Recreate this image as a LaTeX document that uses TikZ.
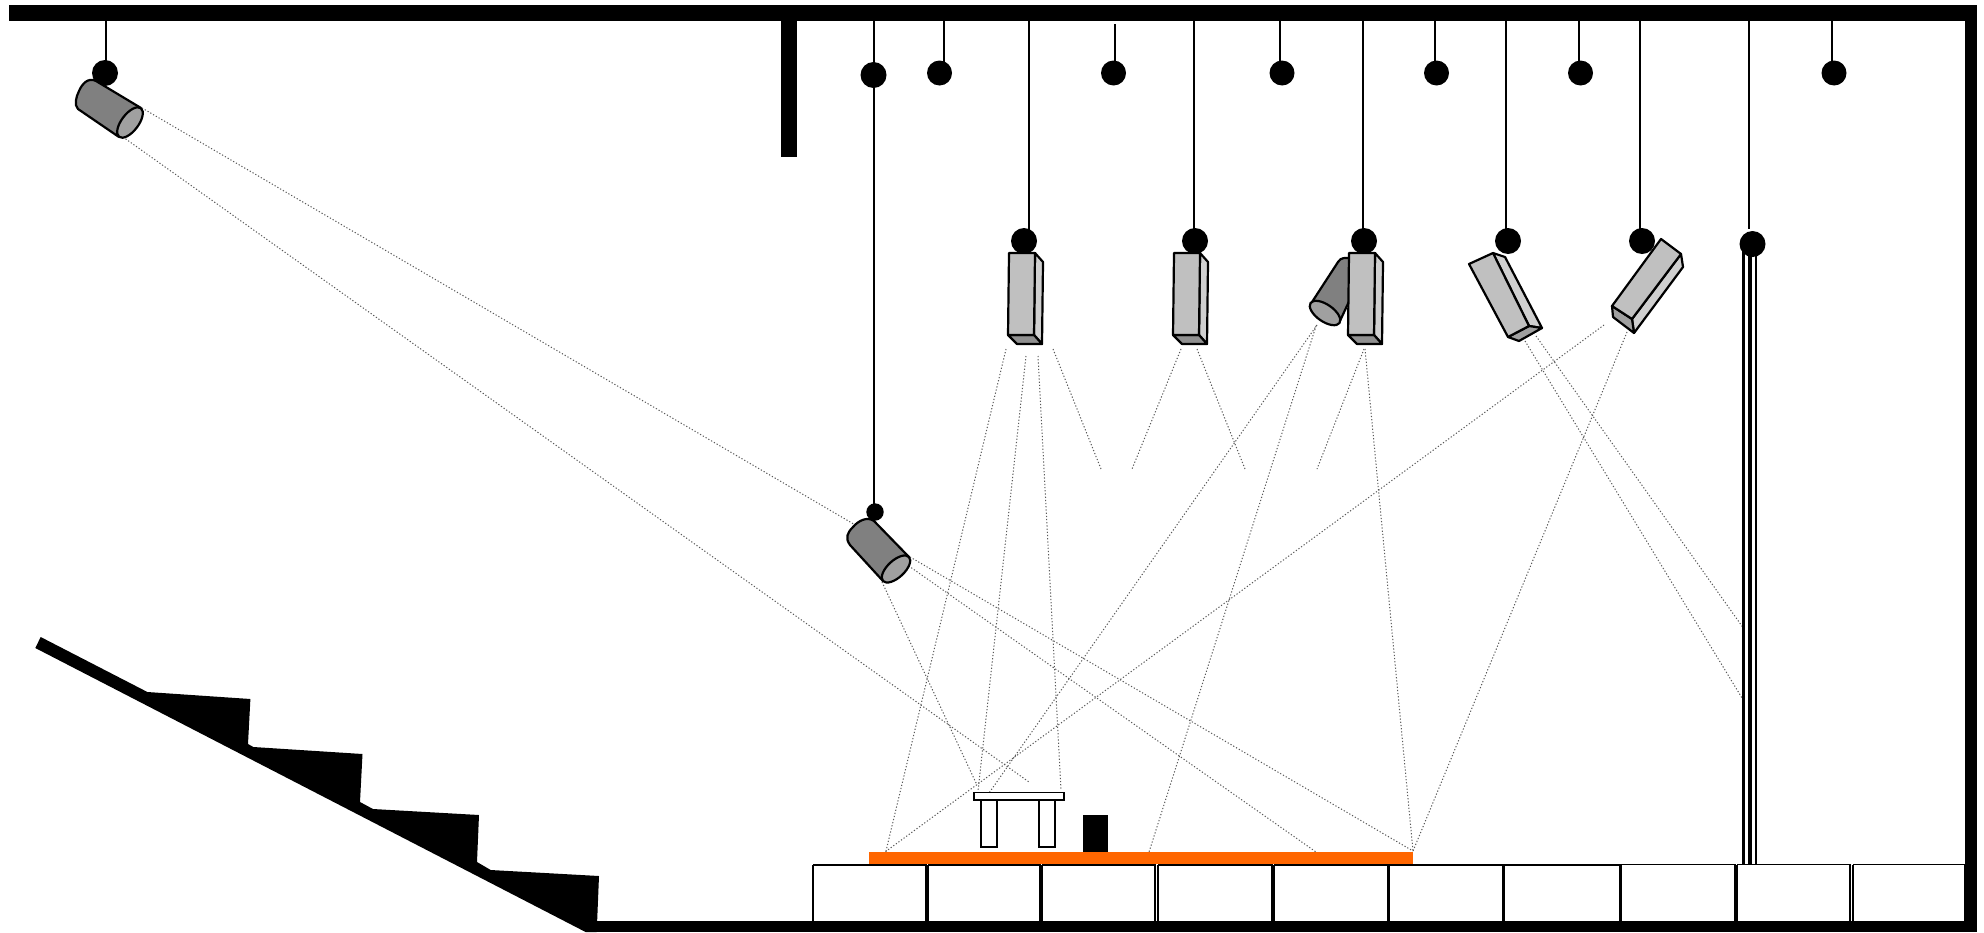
\documentclass[tikz,border=0pt]{standalone}
\definecolor{boxfront}{HTML}{C0C0C0}
\definecolor{boxside}{HTML}{D0D0D0}
\definecolor{boxlow}{HTML}{A0A0A0}
\definecolor{boxlowdark}{HTML}{909090}
\definecolor{cylbody}{HTML}{808080}
\definecolor{cyllens}{HTML}{A0A0A0}
\definecolor{stage}{HTML}{FF6600}
\tikzset{
  beam/.style={draw=black!65,line width=0.5pt,dash pattern=on 0.6pt off 1pt},
  wire/.style={draw=black,line width=1pt},
  ballmark/.style={fill=black,draw=none},
  solidmass/.style={fill=black,draw=none},
  facet/.style={draw=black,line width=1.1pt,line join=round},
  crate/.style={draw=black,fill=white,line width=0.8pt},
}
\begin{document}
\begin{tikzpicture}[x=0.5pt,y=-0.5pt]
\useasboundingbox (0,0) rectangle (1984,932);
\fill[white] (0,0) rectangle (1984,932);
% beams
\draw[beam] (142,108) -- (1413,851);
\draw[beam] (123,137) -- (1029,782);
\draw[beam] (906,564) -- (1316,852);
\draw[beam] (882,582) -- (977,785);
\draw[beam] (1006,349) -- (886,851);
\draw[beam] (1026,356) -- (978,791);
\draw[beam] (1038,356) -- (1061,790);
\draw[beam] (1053,349) -- (1101,469);
\draw[beam] (1181,349) -- (1132,469);
\draw[beam] (1197,349) -- (1245,469);
\draw[beam] (1364,349) -- (1317,469);
\draw[beam] (1365,349) -- (1413,851);
\draw[beam] (1317,325) -- (982,803);
\draw[beam] (1316,326) -- (1149,852);
\draw[beam] (1604,325) -- (885,852);
\draw[beam] (1627,332) -- (1413,851);
\draw[beam] (1536,336) -- (1744,629);
\draw[beam] (1525,341) -- (1742,698);
% structure
\fill[solidmass] (9,5) rectangle (1977,21);
\fill[solidmass] (1965,5) rectangle (1977,932);
\fill[solidmass] (596,920.5) rectangle (1977,932);
\fill[solidmass] (781,21) rectangle (797,157);
% stairs
\fill[solidmass] (40.7,637) -- (147.4,692) -- (250.4,699) -- (248,744) -- (253.4,747) -- (362.5,754) -- (360,802) -- (373,809) -- (479,815) -- (477,862) -- (490.7,870) -- (599,876) -- (596.7,932) -- (585.6,932) -- (35.3,648) -- cycle;
% crates
\foreach \a/\b/\t in {813/926/865,928/1040/865,1042/1155/865,1158/1272/865,1274/1388/865,1389/1503/865,1504/1620/865,1621/1735/864.5,1737/1850/864.5,1853/1965/864.5}{
  \draw[crate] (\a,\t) -- (\b,\t) -- (\b,920.5) (\a,920.5) -- (\a,\t);
}
% pole
\fill[solidmass] (1742,244) rectangle (1745,865);
\fill[solidmass] (1748,244) rectangle (1752,865);
\fill[solidmass] (1755,244) rectangle (1757,865);
% stage
\fill[stage] (869,851.5) rectangle (1413,863.5);
\draw[crate] (981,800) rectangle (997,847);
\draw[crate] (1039,800) rectangle (1055,847);
\draw[crate] (974,792.5) rectangle (1064,800);
\fill[solidmass] (1083,814.5) rectangle (1108,851.5);
% wires
\foreach \x/\a/\b in {106/21/62,944/21/62,1115/24/62,1280/21/62,1435/21/62,1579/21/62,1832/21/62,874/21/505,1029/21/230,1194/21/230,1363/21/230,1506/21/230,1640/21/230,1749/21/229}{
  \draw[wire] (\x,\a) -- (\x,\b);
}
% balls
\foreach \x/\y/\r in {105/73/13,939.5/73/12.5,1113.5/73/12.5,1282/73/12.5,1436.5/73/12.5,1580.5/73/12.5,1834/73/12.5,873.5/75/13,875/512/8.7,1024/241/13,1195/241/13,1364/241/13,1508/241/13,1642/241/13,1752.5/244/13}{
  \fill[ballmark] (\x,\y) circle [radius=\r];
}
% cylinder lamps
\draw[facet,fill=cylbody] (141,108) -- (96,81) .. controls (88,77) and (82,84) .. (79,91) .. controls (76,97) and (74,105) .. (78,109) -- (119,137);
\draw[facet,fill=cyllens,shift={(130,122.5)},rotate=52.8] (0,0) ellipse [x radius=18,y radius=8.5];
\draw[facet,fill=cylbody] (909,557) -- (874,521) .. controls (867,516) and (858,521) .. (853,527) .. controls (847,533) and (845,538) .. (850,545) -- (883,581);
\draw[facet,fill=cyllens,shift={(896,569)},rotate=42.7] (0,0) ellipse [x radius=17.7,y radius=8.5];
\draw[facet,fill=cylbody] (1312,302) -- (1338,262) .. controls (1341,257) and (1345,258) .. (1352,258) -- (1352,295) -- (1339,323);
\draw[facet,fill=cyllens,shift={(1325,313)},rotate=-34.6] (0,0) ellipse [x radius=17.6,y radius=8.5];
% box lamps
\foreach \d in {0,165,340}{
  \begin{scope}[xshift=\d*0.5pt]
    \draw[facet,fill=boxside] (1035,253) -- (1043,262) -- (1042,344) -- (1034,335) -- cycle;
    \draw[facet,fill=boxlowdark] (1008,335) -- (1034,335) -- (1042,344) -- (1017,344) -- cycle;
    \draw[facet,fill=boxfront] (1009,253) -- (1035,253) -- (1034,335) -- (1008,335) -- cycle;
  \end{scope}
}
\draw[facet,fill=boxside] (1493,253) -- (1505,257) -- (1542,328) -- (1529,326) -- cycle;
\draw[facet,fill=boxlow] (1508,337) -- (1529,326) -- (1542,328) -- (1519,341) -- cycle;
\draw[facet,fill=boxfront] (1469,264) -- (1493,253) -- (1529,326) -- (1508,337) -- cycle;
\draw[facet,fill=boxside] (1681,254) -- (1683,267) -- (1634,333) -- (1632,319) -- cycle;
\draw[facet,fill=boxlow] (1612,306) -- (1632,319) -- (1634,333) -- (1613,317) -- cycle;
\draw[facet,fill=boxfront] (1661,239) -- (1681,254) -- (1632,319) -- (1612,306) -- cycle;
\end{tikzpicture}
\end{document}
